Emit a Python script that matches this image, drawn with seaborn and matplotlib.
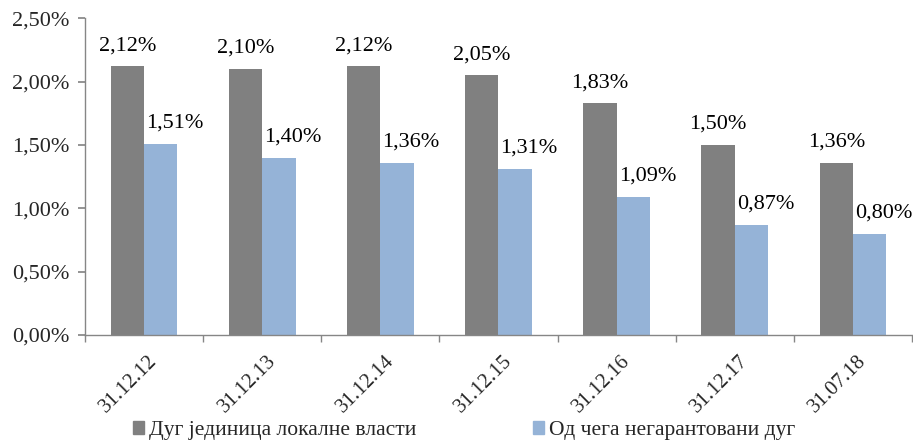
import matplotlib
matplotlib.use("Agg")
import matplotlib.pyplot as plt
import matplotlib.patches as mpatches
import matplotlib.transforms as mtransforms
import seaborn as sns
import pandas as pd
from matplotlib.ticker import FuncFormatter, FixedLocator

dates = ["31.12.12", "31.12.13", "31.12.14", "31.12.15", "31.12.16", "31.12.17", "31.07.18"]
series_names = ["Дуг јединица локалне власти", "Од чега негарантовани дуг"]
total_debt = [2.12, 2.10, 2.12, 2.05, 1.83, 1.50, 1.36]
nonguaranteed = [1.51, 1.40, 1.36, 1.31, 1.09, 0.87, 0.80]
yticks = [0.0, 0.5, 1.0, 1.5, 2.0, 2.5]
colors = ["#808080", "#95B3D7"]

df = pd.DataFrame({
    "date": dates * 2,
    "value": total_debt + nonguaranteed,
    "series": [series_names[0]] * len(dates) + [series_names[1]] * len(dates),
})

sns.set_theme(style="white")
plt.rcParams["font.family"] = ["Liberation Serif", "DejaVu Serif"]
FS = 16
XFS = 15
LFS = 15.5

fig = plt.figure(figsize=(9.13, 4.42), dpi=100)
ax = fig.add_axes([0.093, 0.242, 0.906, 0.717])

sns.barplot(data=df, x="date", y="value", hue="series", order=dates,
            hue_order=series_names, palette=colors, width=0.565,
            saturation=1, linewidth=0, ax=ax, legend=False)

ax.set_xlim(-0.5, len(dates) - 0.5)
ax.set_ylim(0, 2.5)
ax.set_yticks(yticks)
ax.yaxis.set_major_formatter(FuncFormatter(lambda v, p: f"{v:.2f}%".replace(".", ",")))
ax.set_xlabel("")
ax.set_ylabel("")

ax.set_xticks(range(len(dates)))
ax.set_xticklabels(dates, rotation=45, ha="right", rotation_mode="anchor", fontsize=XFS)
ax.xaxis.set_minor_locator(FixedLocator([i - 0.5 for i in range(len(dates) + 1)]))
ax.tick_params(axis="x", which="major", length=0, pad=12)
ax.tick_params(axis="x", which="minor", length=5, color="#868686", direction="out", bottom=True)
ax.tick_params(axis="y", length=5, color="#868686", direction="out", left=True, labelsize=FS, pad=6)
offset = mtransforms.ScaledTranslation(4 / 100, 0, fig.dpi_scale_trans)
for lab in ax.get_xticklabels():
    lab.set_transform(lab.get_transform() + offset)

for s in ["top", "right"]:
    ax.spines[s].set_visible(False)
for s in ["left", "bottom"]:
    ax.spines[s].set_color("#868686")
    ax.spines[s].set_linewidth(1.0)

for ci, cont in enumerate(ax.containers):
    for bar in cont:
        h = bar.get_height()
        xc = bar.get_x() + bar.get_width() / 2
        dx = 0 if ci == 0 else 14
        ax.annotate(f"{h:.2f}%".replace(".", ","), (xc, h), xytext=(dx, 11),
                    textcoords="offset pixels",
                    ha="center", va="bottom", fontsize=FS, color="black")

handles = [mpatches.Patch(color=c, label=n) for c, n in zip(colors, series_names)]
fig.legend(handles=handles, loc="lower left", bbox_to_anchor=(133 / 913, 0.004), ncol=2,
           frameon=False, fontsize=LFS, handlelength=0.5, handleheight=0.5,
           handletextpad=0.25, columnspacing=5.4, borderpad=0, borderaxespad=0)

fig.savefig("out.png", dpi=100)
